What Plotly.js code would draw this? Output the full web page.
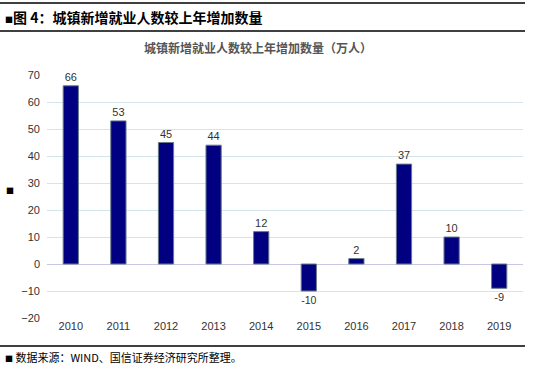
<!DOCTYPE html>
<html><head><meta charset="utf-8">
<script src="https://cdn.plot.ly/plotly-3.0.1.min.js"></script>
<style>html,body{margin:0;padding:0;background:#fff;}#chart{width:551px;height:370px;}</style>
</head><body><div id="chart"></div>
<script>
const years = ['2010','2011','2012','2013','2014','2015','2016','2017','2018','2019'];
const increase = [66, 53, 45, 44, 12, -10, 2, 37, 10, -9];
const yTicks = [-20,-10,0,10,20,30,40,50,60,70];

const trace = {
  type: 'bar', x: years, y: increase, width: 0.32,
  marker: {color: '#000080', line: {color: '#6a7a8a', width: 1}},
  text: increase.map(String), textposition: 'outside',
  textfont: {family: 'Liberation Sans, Arial, sans-serif', size: 11, color: '#333'},
  cliponaxis: false, hoverinfo: 'none'
};
const layout = {
  width: 551, height: 370,
  margin: {l: 47, r: 28, t: 75, b: 52},
  paper_bgcolor: '#ffffff', plot_bgcolor: '#ffffff',
  showlegend: false,
  xaxis: {type: 'category', showgrid: false, showline: false, ticks: '', zeroline: false,
    tickfont: {family: 'Liberation Sans, Arial, sans-serif', size: 11, color: '#333'}},
  yaxis: {range: [-20, 70], tickvals: yTicks, showgrid: true, gridcolor: '#d4e4ec', gridwidth: 1,
    zeroline: true, zerolinecolor: '#c8c8e4', zerolinewidth: 1, showline: false, ticks: '',
    ticklabelstandoff: 6,
    tickfont: {family: 'Liberation Sans, Arial, sans-serif', size: 11, color: '#333'}},
  shapes: [
    {type: 'line', xref: 'paper', yref: 'paper', x0: -47/476, x1: 478/476, y0: 1 + (75-3)/243, y1: 1 + (75-3)/243, line: {color: '#000', width: 1.5}},
    {type: 'line', xref: 'paper', yref: 'paper', x0: -47/476, x1: 478/476, y0: 1 + (75-31)/243, y1: 1 + (75-31)/243, line: {color: '#000', width: 1.5}},
    {type: 'line', xref: 'paper', yref: 'paper', x0: -47/476, x1: 478/476, y0: -(346-318)/243, y1: -(346-318)/243, line: {color: '#000', width: 1.5}}
  ],
  annotations: [
    {xref: 'paper', yref: 'paper', x: -44/476, y: 1 + (75-17)/243, xanchor: 'left', yanchor: 'middle', showarrow: false,
     text: '<span style="font-size:8px">■</span><b>图 4：城镇新增就业人数较上年增加数量</b>',
     font: {family: 'Noto Sans CJK SC, sans-serif', size: 14, color: '#000'}},
    {xref: 'paper', yref: 'paper', x: (258-47)/476, y: 1 + (75-47)/243, xanchor: 'center', yanchor: 'middle', showarrow: false,
     text: '<b>城镇新增就业人数较上年增加数量（万人）</b>',
     font: {family: 'Noto Sans CJK SC, sans-serif', size: 12, color: '#555'}},
    {xref: 'paper', yref: 'paper', x: -44/476, y: -(357-318)/243, xanchor: 'left', yanchor: 'middle', showarrow: false,
     text: '<span style="font-size:8px">■</span> 数据来源：WIND、国信证券经济研究所整理。',
     font: {family: 'Noto Sans CJK SC, sans-serif', size: 11, color: '#000'}},
    {xref: 'paper', yref: 'paper', x: -43/476, y: (318-190)/243, xanchor: 'left', yanchor: 'middle', showarrow: false,
     text: '■', font: {family: 'Noto Sans CJK SC, sans-serif', size: 8, color: '#000'}}
  ]
};
Plotly.newPlot('chart', [trace], layout, {staticPlot: true, displayModeBar: false});
</script></body></html>
